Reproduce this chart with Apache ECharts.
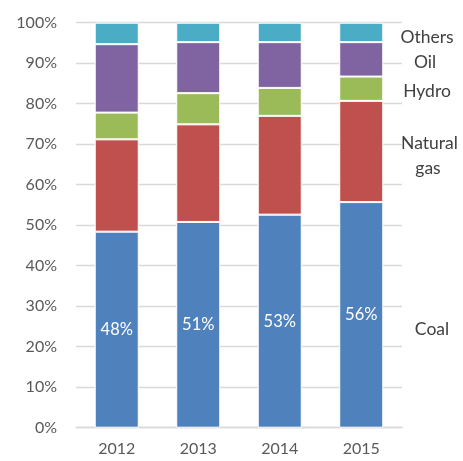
<!DOCTYPE html>
<html><head><meta charset="utf-8">
<script src="https://cdn.jsdelivr.net/npm/echarts@6/dist/echarts.min.js"></script>
<style>html,body{margin:0;padding:0;background:#fff}#c{width:463px;height:461px}</style>
</head><body><div id="c"></div>
<script>
const categories = ['2012', '2013', '2014', '2015'];
const coal = [48.4, 50.8, 52.6, 55.7];
const naturalGas = [22.8, 24.1, 24.4, 25.0];
const hydro = [6.6, 7.7, 6.9, 6.0];
const oil = [16.9, 12.6, 11.3, 8.5];
const others = [5.3, 4.8, 4.8, 4.8];
const seriesNames = ['Coal', 'Natural gas', 'Hydro', 'Oil', 'Others'];
const yTicks = [0, 10, 20, 30, 40, 50, 60, 70, 80, 90, 100];

const font = 'Lato, "Open Sans", sans-serif';
const colors = ['#4F81BD', '#C0504D', '#9BBB59', '#8064A2', '#4BACC6'];
const values = [coal, naturalGas, hydro, oil, others];

function sideLabel(text, x, y) {
  return { type: 'text', x: x, y: y,
    style: { text: text, font: '17.5px ' + font, fill: '#404040', align: 'center', verticalAlign: 'middle' } };
}

const chart = echarts.init(document.getElementById('c'));
chart.setOption({
  animation: false,
  grid: { left: 76, right: 61, top: 22.7, bottom: 33.3 },
  xAxis: {
    type: 'category', data: categories,
    axisLine: { lineStyle: { color: '#D9D9D9', width: 1.3 } },
    axisTick: { show: false },
    axisLabel: { color: '#595959', fontSize: 16, fontFamily: font, margin: 13 }
  },
  yAxis: {
    type: 'value', min: 0, max: 100, interval: 10,
    axisLine: { show: false }, axisTick: { show: false },
    splitLine: { lineStyle: { color: '#D9D9D9', width: 1.3 } },
    axisLabel: { color: '#595959', fontSize: 16, fontFamily: font, margin: 19,
      formatter: v => yTicks.includes(v) ? v + '%' : '' }
  },
  series: values.map((vals, i) => ({
    name: seriesNames[i], type: 'bar', stack: 'total', barWidth: '54%',
    data: vals,
    itemStyle: { color: colors[i], borderColor: '#fff', borderWidth: 1 },
    label: i === 0 ? { show: true, position: 'inside', color: '#fff', fontSize: 16.5,
      fontFamily: font, formatter: p => Math.round(p.value) + '%' } : { show: false }
  })),
  graphic: [
    sideLabel('Others', 427, 37),
    sideLabel('Oil', 425, 62),
    sideLabel('Hydro', 427, 91),
    sideLabel('Natural', 429.5, 143),
    sideLabel('gas', 428, 168),
    sideLabel('Coal', 432, 329)
  ]
});
</script></body></html>
